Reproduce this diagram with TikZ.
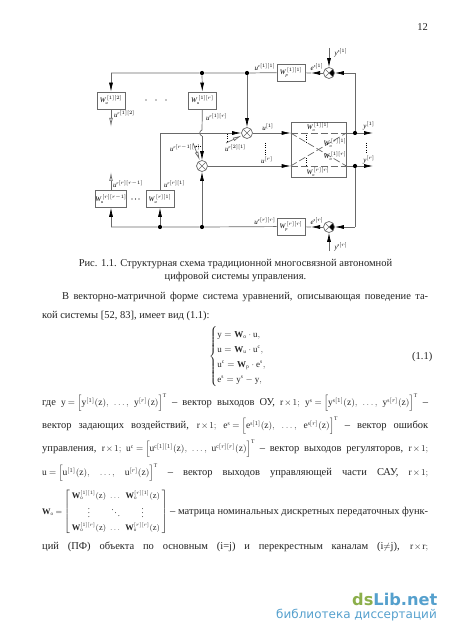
\documentclass[tikz,border=0pt]{standalone}
\usepackage{amsmath}
\usepackage{fontspec}
\setmainfont{Liberation Serif}
\newfontfamily\markfont{DejaVu Sans}
\usetikzlibrary{arrows.meta, positioning}
\definecolor{schemegray}{RGB}{105,105,105}
\definecolor{pagetext}{RGB}{35,35,35}
\definecolor{markgreen}{RGB}{140,175,75}
\definecolor{markblue}{RGB}{85,160,205}
\DeclareMathSizes{7}{7}{4.3}{4}
\DeclareMathSizes{9}{9}{5.5}{4.5}
\DeclareMathSizes{8.5}{8.5}{5}{4}
\DeclareMathSizes{10.5}{9.5}{5.6}{4.5}
\newcommand{\vr}[1]{\mathit{#1}}
\newcommand{\mb}[1]{\mathrm{#1}}
\newcommand{\bW}{\mathbf{W}}
\newcommand{\textline}[1]{\makebox[386pt][s]{\thickmuskip=4mu\medmuskip=2mu #1}}
\tikzset{
	blockbox/.style={draw=schemegray, line width=0.7pt, minimum width=28pt, minimum height=17pt, inner sep=0pt, font=\fontsize{7}{8}\selectfont},
	sumnode/.style={draw=schemegray, circle, line width=0.7pt, minimum size=11pt, inner sep=0pt,
		path picture={\draw[schemegray, line width=0.5pt] (path picture bounding box.north west) -- (path picture bounding box.south east) (path picture bounding box.north east) -- (path picture bounding box.south west);}},
	negnode/.style={draw=schemegray, circle, line width=0.7pt, minimum size=11pt, inner sep=0pt,
		path picture={\fill[black] (path picture bounding box.center) -- (path picture bounding box.north east) -- (path picture bounding box.south east) -- cycle;
			\draw[schemegray, line width=0.5pt] (path picture bounding box.north west) -- (path picture bounding box.south east) (path picture bounding box.north east) -- (path picture bounding box.south west);}},
	branchdot/.style={circle, fill=black, minimum size=4.2pt, inner sep=0pt},
	sigline/.style={schemegray, line width=0.7pt},
	sigarrow/.style={sigline, -{Latex[black, length=9pt, width=4pt]}},
	openarrow/.style={sigline, -{Latex[open, length=9pt, width=3.6pt]}},
	dashline/.style={schemegray, line width=0.7pt, dash pattern=on 7pt off 3pt},
	dotline/.style={black, line width=0.9pt, dash pattern=on 1pt off 1.2pt},
	siglabel/.style={font=\fontsize{7}{8}\selectfont, inner sep=0pt},
	bodyline/.style={anchor=west, inner sep=0pt, text=pagetext, font=\fontsize{10.5}{12}\selectfont}
}
\begin{document}
\begin{tikzpicture}[x=1pt, y=-1pt]
	\useasboundingbox (0,0) rectangle (450,636);
	\node[bodyline, anchor=east] (pagenum) at (428,27) {12};
	% regulators
	\node[blockbox] (wuA) at (111,100.5) {$\vr{W}_{\vr{u}}^{\,[1][2]}$};
	\node[blockbox] (wuB) at (202.5,100.5) {$\vr{W}_{\vr{u}}^{\,[1][r]}$};
	\node[blockbox] (wuC) at (111,199) {$\vr{W}_{\vr{u}}^{\,[r][r-1]}$};
	\node[blockbox] (wuD) at (160,199) {$\vr{W}_{\vr{u}}^{\,[r][1]}$};
	\node[blockbox] (wpA) at (291,72.5) {$\vr{W}_{\vr{p}}^{\,[1][1]}$};
	\node[blockbox] (wpB) at (291,226.5) {$\vr{W}_{\vr{p}}^{\,[r][r]}$};
	% plant
	\node[draw=schemegray, line width=0.7pt, minimum width=55pt, minimum height=55pt, inner sep=0pt] (plant) at (318.5,149.5) {};
	% sums
	\node[sumnode] (sumA) at (247,133) {};
	\node[sumnode] (sumB) at (202,166) {};
	\node[negnode] (errA) at (329,73) {};
	\node[negnode] (errB) at (329,227) {};
	% branch points
	\node[branchdot] (dotTa) at (202,73) {};
	\node[branchdot] (dotTb) at (247,73) {};
	\node[branchdot] (dotBa) at (160,227) {};
	\node[branchdot] (dotBb) at (202,227) {};
	\node[branchdot] (dotOa) at (355,133) {};
	\node[branchdot] (dotOb) at (355,166) {};
	% free ends
	\coordinate (inA) at (plant.west |- sumA);
	\coordinate (inB) at (plant.west |- sumB);
	\coordinate (outA) at (plant.east |- sumA);
	\coordinate (outB) at (plant.east |- sumB);
	\coordinate (cornerTL) at (111,73);
	\coordinate (cornerBL) at (111,227);
	\coordinate (cornerTR) at (355,73);
	\coordinate (cornerBR) at (355,227);
	\coordinate (cornerIn) at (160,133);
	\coordinate (hopA) at (202,130);
	\coordinate (hopB) at (202,136);
	\coordinate (tipEa) at (311,73);
	\coordinate (tipEb) at (311,227);
	\coordinate (yA) at (373,133);
	\coordinate (yB) at (373,166);
	\coordinate (refA) at (329,48);
	\coordinate (refB) at (329,251);
	\coordinate (oaEnd) at (111,127);
	\coordinate (obEnd) at (111,172);
	\coordinate (crossA) at (226,143);
	\coordinate (crossB) at (193,143);
	% top and bottom buses
	\draw[sigline] (cornerTL) -- (dotTa) -- (dotTb) -- (wpA);
	\draw[sigline] (cornerBL) -- (dotBa) -- (dotBb) -- (wpB);
	\draw[sigarrow] (cornerTL) -- (wuA);
	\draw[sigarrow] (dotTa) -- (wuB);
	\draw[sigarrow] (dotTb) -- (sumA);
	\draw[sigarrow] (cornerBL) -- (wuC);
	\draw[sigarrow] (dotBa) -- (wuD);
	\draw[sigarrow] (dotBb) -- (sumB);
	% regulator outputs
	\draw[openarrow] (wuA) -- (oaEnd);
	\draw[openarrow] (wuC) -- (obEnd);
	\draw[sigline] (wuB) -- (hopA) .. controls (199,131) and (199,135) .. (hopB);
	\draw[sigarrow] (hopB) -- (sumB);
	\draw[sigline] (wuD) -- (cornerIn);
	\draw[sigarrow] (cornerIn) -- (sumA);
	\draw[openarrow] (crossA) -- (sumA);
	\draw[openarrow] (crossB) -- (sumB);
	% control outputs
	\draw[sigarrow] (sumA) -- (inA);
	\draw[sigarrow] (sumB) -- (inB);
	% plant channels
	\draw[dashline] (inA) -- (outA);
	\draw[dashline] (inB) -- (outB);
	\draw[dashline] (inA) -- (outB);
	\draw[dashline] (inB) -- (outA);
	\draw[sigline] (outA) -- (dotOa);
	\draw[sigline] (outB) -- (dotOb);
	\draw[sigarrow] (dotOa) -- (yA);
	\draw[sigarrow] (dotOb) -- (yB);
	% feedback
	\draw[sigline] (dotOa) -- (cornerTR);
	\draw[sigline] (dotOb) -- (cornerBR);
	\draw[sigarrow] (cornerTR) -- (errA);
	\draw[sigarrow] (cornerBR) -- (errB);
	\draw[sigarrow] (refA) -- (errA);
	\draw[sigarrow] (refB) -- (errB);
	\draw[sigarrow] (errA) -- (tipEa);
	\draw[sigarrow] (errB) -- (tipEb);
	\draw[sigline] (tipEa) -- (wpA);
	\draw[sigline] (tipEb) -- (wpB);
	% dots
	\foreach \x in {146,156,166} \fill (\x,100) circle (0.7);
	\foreach \x in {132,135.5,139} \fill (\x,199) circle (0.6);
	\foreach \x/\ya/\yb in {265/143/155, 366/143/152, 227/134/141, 306/135/142, 306/158/165} \draw[dotline] (\x,\ya) -- (\x,\yb);
	\draw[dotline] (196,146) -- (201,146);
	% labels
	\node[siglabel, anchor=west] (lbA) at (114,114) {$\vr{u}^{\vr{c}[1][2]}$};
	\node[siglabel, anchor=west] (lbB) at (206,117) {$\vr{u}^{\vr{c}[1][r]}$};
	\node[siglabel, anchor=west] (lbC) at (225,148) {$\vr{u}^{\vr{c}[2][1]}$};
	\node[siglabel, anchor=west] (lbD) at (170,148) {$\vr{u}^{\vr{c}[r-1][r]}$};
	\node[siglabel, anchor=west] (lbE) at (113,184) {$\vr{u}^{\vr{c}[r][r-1]}$};
	\node[siglabel, anchor=west] (lbF) at (164,184) {$\vr{u}^{\vr{c}[r][1]}$};
	\node[siglabel] (lbG) at (265,67) {$\vr{u}^{\vr{c}[1][1]}$};
	\node[siglabel] (lbH) at (265,221) {$\vr{u}^{\vr{c}[r][r]}$};
	\node[siglabel] (lbI) at (317,67) {$\vr{e}^{\vr{s}[1]}$};
	\node[siglabel] (lbJ) at (317,221) {$\vr{e}^{\vr{s}[r]}$};
	\node[siglabel] (lbK) at (341,53) {$\vr{y}^{\vr{s}[1]}$};
	\node[siglabel] (lbL) at (341,247) {$\vr{y}^{\vr{s}[r]}$};
	\node[siglabel] (lbM) at (268,127) {$\vr{u}^{[1]}$};
	\node[siglabel] (lbN) at (267,160) {$\vr{u}^{[r]}$};
	\node[siglabel] (lbO) at (369,126) {$\vr{y}^{[1]}$};
	\node[siglabel] (lbP) at (369,160) {$\vr{y}^{[r]}$};
	\node[siglabel] (lbQ) at (318,127) {$\vr{W}_{\vr{o}}^{\,[1][1]}$};
	\node[siglabel] (lbR) at (318,172) {$\vr{W}_{\vr{o}}^{\,[r][r]}$};
	\node[siglabel] (lbS) at (335,143) {$\vr{W}_{\vr{o}}^{\,[r][1]}$};
	\node[siglabel] (lbT) at (335,156) {$\vr{W}_{\vr{o}}^{\,[1][r]}$};
	% caption
	\node[bodyline, anchor=center] (capA) at (235.5,264) {Рис. 1.1. Структурная схема традиционной многосвязной автономной};
	\node[bodyline, anchor=center] (capB) at (235.5,277) {цифровой системы управления.};
	% text
	\node[bodyline] (parA) at (62,297) {\makebox[366pt][s]{В векторно-матричной форме система уравнений, описывающая поведение та-}};
	\node[bodyline] (parB) at (42,316) {кой системы [52, 83], имеет вид (1.1):};
	\node[bodyline] (sys) at (209,356.5) {\fontsize{9}{12}\selectfont$\left\{\renewcommand{\arraystretch}{1.25}\begin{array}{@{}l@{}}
		\mb{y}=\bW_{\mb{o}}\cdot\mb{u},\\
		\mb{u}=\bW_{\mb{u}}\cdot\mb{u}^{\mb{c}},\\
		\mb{u}^{\mb{c}}=\bW_{\mb{p}}\cdot\mb{e}^{\mb{s}},\\
		\mb{e}^{\mb{s}}=\mb{y}^{\mb{s}}-\mb{y},
		\end{array}\right.$};
	\node[bodyline] (eqnum) at (412,356.5) {(1.1)};
	\node[bodyline] (lineA) at (42,403) {\textline{где $\mb{y}=\Big[\mb{y}^{[1]}(\mb{z}),$ $\dots,$ $\mb{y}^{[r]}(\mb{z})\Big]^{\mb{T}}$ – вектор выходов ОУ, $\mb{r}\times 1;$ $\mb{y}^{\mb{s}}=\Big[\mb{y}^{\mb{s}[1]}(\mb{z}),$ $\dots,$ $\mb{y}^{\mb{s}[r]}(\mb{z})\Big]^{\mb{T}}$ –}};
	\node[bodyline] (lineB) at (42,426) {\textline{вектор задающих воздействий, $\mb{r}\times 1;$ $\mb{e}^{\mb{s}}=\Big[\mb{e}^{\mb{s}[1]}(\mb{z}),$ $\dots,$ $\mb{e}^{\mb{s}[r]}(\mb{z})\Big]^{\mb{T}}$ – вектор ошибок}};
	\node[bodyline] (lineC) at (42,449) {\textline{управления, $\mb{r}\times 1;$ $\mb{u}^{\mb{c}}=\Big[\mb{u}^{\mb{c}[1][1]}(\mb{z}),$ $\dots,$ $\mb{u}^{\mb{c}[r][r]}(\mb{z})\Big]^{\mb{T}}$ – вектор выходов регуляторов, $\mb{r}\times 1;$}};
	\node[bodyline] (lineD) at (42,473) {\textline{$\mb{u}=\Big[\mb{u}^{[1]}(\mb{z}),$ $\dots,$ $\mb{u}^{[r]}(\mb{z})\Big]^{\mb{T}}$ – вектор выходов управляющей части САУ, $\mb{r}\times 1;$}};
	\node[bodyline] (lineE) at (42,512) {\textline{{\fontsize{8.5}{13.5}\selectfont\arraycolsep=2pt$\bW_{\mb{o}}=\left[\begin{array}{ccc}\bW_{\mb{o}}^{[1][1]}(\mb{z}) & \dots & \bW_{\mb{o}}^{[r][1]}(\mb{z})\\ \vdots & \ddots & \vdots\\ \bW_{\mb{o}}^{[1][r]}(\mb{z}) & \dots & \bW_{\mb{o}}^{[r][r]}(\mb{z})\end{array}\right]$} – матрица номинальных дискретных передаточных функ-}};
	\node[bodyline] (lineF) at (42,547) {\textline{ций (ПФ) объекта по основным (i=j) и перекрестным каналам (i$\neq$j), $\mb{r}\times\mb{r};$}};
	% watermark
	\node[anchor=west, inner sep=0pt, font=\markfont\bfseries\fontsize{16.2}{18}\selectfont] (markA) at (352,599.5) {\textcolor{markgreen}{ds}\textcolor{markblue}{Lib.net}};
	\node[anchor=east, inner sep=0pt, text=markblue, font=\markfont\fontsize{12}{14}\selectfont] (markB) at (437,615.5) {библиотека диссертаций};
\end{tikzpicture}
\end{document}
